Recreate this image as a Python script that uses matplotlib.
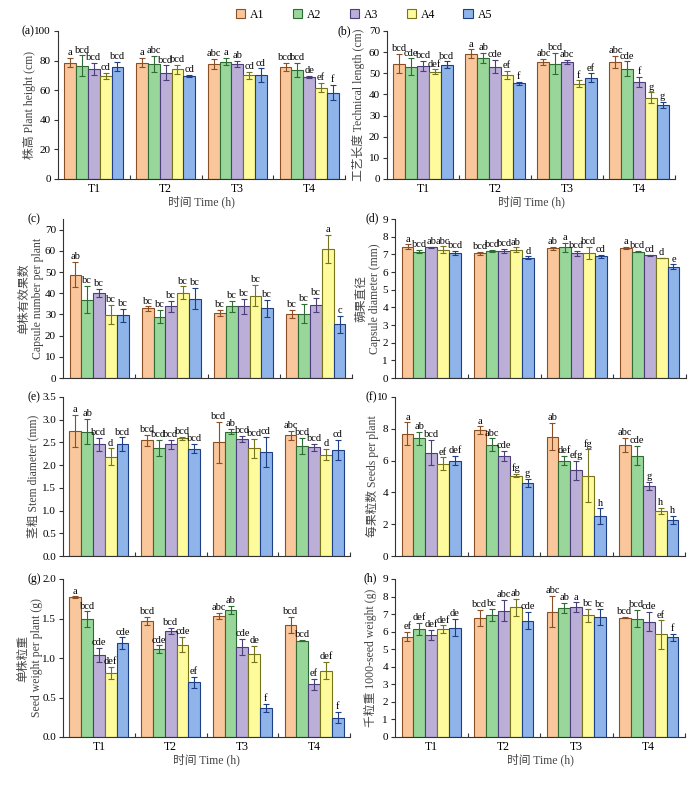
import matplotlib
matplotlib.use("Agg")
import matplotlib.pyplot as plt
from matplotlib.patches import Patch
import numpy as np

plt.rcParams['font.family'] = ['Liberation Serif', 'Noto Sans CJK SC']
plt.rcParams['font.size'] = 8

groups = ['T1', 'T2', 'T3', 'T4']
series = ['A1', 'A2', 'A3', 'A4', 'A5']
face_colors = ['#F9C79B', '#98D69A', '#BBAFD8', '#FDFB9C', '#8FB4EA']
edge_colors = ['#8A4F24', '#2F6B34', '#4C3E78', '#77741E', '#1E3F86']

# each panel: rows = T1..T4, cols = A1..A5
height_mean = [[78.7, 76.5, 74.4, 69.9, 76.0],
               [78.7, 77.5, 71.7, 74.0, 69.4],
               [77.5, 79.3, 78.0, 70.0, 70.3],
               [75.7, 73.7, 68.8, 61.8, 58.4]]
height_err = [[3.0, 7.0, 4.0, 2.0, 3.0],
              [3.0, 5.5, 5.0, 3.0, 0.8],
              [3.5, 2.5, 2.0, 2.5, 4.5],
              [3.0, 5.0, 0.8, 3.0, 5.0]]
height_sig = [['a', 'bcd', 'bcd', 'cd', 'bcd'],
              ['a', 'abc', 'bcd', 'bcd', 'cd'],
              ['abc', 'a', 'ab', 'cd', 'cd'],
              ['bcd', 'bcd', 'de', 'ef', 'f']]

length_mean = [[54.6, 53.0, 53.5, 50.7, 54.1],
               [59.3, 57.3, 53.2, 49.1, 45.3],
               [55.2, 54.6, 55.5, 45.1, 48.0],
               [55.4, 52.1, 45.8, 38.5, 34.9]]
length_err = [[4.5, 4.0, 2.5, 1.2, 1.5],
              [2.0, 2.5, 3.0, 2.0, 0.8],
              [1.5, 5.0, 1.0, 1.5, 2.0],
              [3.0, 3.5, 2.5, 2.5, 1.5]]
length_sig = [['bcd', 'cde', 'bcd', 'def', 'bcd'],
              ['a', 'ab', 'cde', 'ef', 'f'],
              ['abc', 'bcd', 'abc', 'f', 'ef'],
              ['abc', 'cde', 'f', 'g', 'g']]

capsule_mean = [[48.8, 37.0, 40.0, 29.8, 29.5],
                [32.8, 29.0, 33.8, 40.2, 37.4],
                [30.8, 33.8, 33.8, 38.8, 33.0],
                [30.1, 30.3, 34.4, 60.9, 25.3]]
capsule_err = [[6.0, 6.5, 2.0, 4.5, 3.0],
               [1.0, 3.0, 2.5, 3.0, 5.0],
               [1.5, 2.5, 3.5, 5.0, 4.0],
               [2.0, 4.5, 3.5, 6.5, 4.0]]
capsule_sig = [['ab', 'bc', 'bc', 'bc', 'bc'],
               ['bc', 'bc', 'bc', 'bc', 'bc'],
               ['bc', 'bc', 'bc', 'bc', 'bc'],
               ['bc', 'bc', 'bc', 'a', 'c']]

diam_mean = [[7.44, 7.16, 7.40, 7.25, 7.08],
             [7.06, 7.18, 7.19, 7.27, 6.80],
             [7.34, 7.40, 7.06, 7.06, 6.89],
             [7.36, 7.16, 6.95, 6.80, 6.31]]
diam_err = [[0.12, 0.10, 0.02, 0.20, 0.10],
            [0.10, 0.07, 0.12, 0.12, 0.08],
            [0.10, 0.25, 0.15, 0.35, 0.10],
            [0.08, 0.05, 0.04, 0.02, 0.12]]
diam_sig = [['a', 'bcd', 'ab', 'abc', 'bcd'],
            ['bcd', 'bcd', 'bcd', 'ab', 'd'],
            ['ab', 'a', 'bcd', 'bcd', 'cd'],
            ['a', 'bcd', 'cd', 'd', 'e']]

stem_mean = [[2.75, 2.74, 2.46, 2.19, 2.46],
             [2.55, 2.38, 2.46, 2.59, 2.36],
             [2.50, 2.74, 2.58, 2.37, 2.30],
             [2.66, 2.42, 2.39, 2.23, 2.33]]
stem_err = [[0.35, 0.28, 0.14, 0.18, 0.15],
            [0.12, 0.18, 0.10, 0.03, 0.10],
            [0.45, 0.06, 0.07, 0.21, 0.33],
            [0.10, 0.18, 0.08, 0.12, 0.22]]
stem_sig = [['a', 'ab', 'bcd', 'd', 'bcd'],
            ['bcd', 'bcd', 'bcd', 'bcd', 'bcd'],
            ['bcd', 'ab', 'bcd', 'bcd', 'cd'],
            ['abc', 'bcd', 'bcd', 'd', 'cd']]

seeds_mean = [[7.7, 7.4, 6.5, 5.8, 6.0],
              [7.9, 7.0, 6.3, 5.05, 4.6],
              [7.5, 6.0, 5.4, 5.05, 2.5],
              [7.0, 6.3, 4.4, 2.85, 2.25]]
seeds_err = [[0.7, 0.4, 0.8, 0.4, 0.3],
             [0.25, 0.4, 0.3, 0.1, 0.25],
             [0.85, 0.3, 0.6, 1.65, 0.5],
             [0.45, 0.6, 0.25, 0.2, 0.25]]
seeds_sig = [['a', 'ab', 'bcd', 'ef', 'def'],
             ['a', 'abc', 'cde', 'fg', 'g'],
             ['ab', 'def', 'efg', 'fg', 'h'],
             ['abc', 'cde', 'g', 'h', 'h']]

weight_mean = [[1.77, 1.49, 1.04, 0.81, 1.19],
               [1.47, 1.11, 1.34, 1.17, 0.69],
               [1.53, 1.61, 1.14, 1.05, 0.365],
               [1.42, 1.22, 0.67, 0.84, 0.245]]
weight_err = [[0.01, 0.10, 0.09, 0.08, 0.07],
              [0.05, 0.05, 0.04, 0.10, 0.07],
              [0.04, 0.05, 0.10, 0.10, 0.05],
              [0.10, 0.01, 0.07, 0.11, 0.07]]
weight_sig = [['a', 'bcd', 'cde', 'def', 'cde'],
              ['bcd', 'cde', 'bcd', 'cde', 'ef'],
              ['abc', 'ab', 'cde', 'de', 'f'],
              ['bcd', 'bcd', 'ef', 'def', 'f']]

kseed_mean = [[5.72, 6.16, 5.82, 6.14, 6.23],
              [6.78, 6.95, 7.19, 7.38, 6.63],
              [7.14, 7.34, 7.40, 6.93, 6.82],
              [6.80, 6.74, 6.57, 5.84, 5.67]]
kseed_err = [[0.25, 0.35, 0.27, 0.22, 0.50],
             [0.45, 0.35, 0.60, 0.48, 0.50],
             [0.88, 0.30, 0.27, 0.38, 0.45],
             [0.03, 0.50, 0.55, 0.80, 0.22]]
kseed_sig = [['ef', 'def', 'def', 'def', 'de'],
             ['bcd', 'bc', 'abc', 'ab', 'cde'],
             ['abc', 'ab', 'a', 'bc', 'bc'],
             ['bcd', 'bcd', 'cde', 'ef', 'f']]

panels = [
    ('(a)', '株高 Plant height (cm)', height_mean, height_err, height_sig, 100, 20, '%d'),
    ('(b)', '工艺长度 Technical length (cm)', length_mean, length_err, length_sig, 70, 10, '%d'),
    ('(c)', '单株有效果数\nCapsule number per plant', capsule_mean, capsule_err, capsule_sig, 75, 10, '%d'),
    ('(d)', '蒴果直径\nCapsule diameter (mm)', diam_mean, diam_err, diam_sig, 9, 1, '%d'),
    ('(e)', '茎粗 Stem diameter (mm)', stem_mean, stem_err, stem_sig, 3.5, 0.5, '%.1f'),
    ('(f)', '每果粒数 Seeds per plant', seeds_mean, seeds_err, seeds_sig, 10, 2, '%d'),
    ('(g)', '单株粒重\nSeed weight per plant (g)', weight_mean, weight_err, weight_sig, 2.0, 0.5, '%.1f'),
    ('(h)', '千粒重 1000-seed weight (g)', kseed_mean, kseed_err, kseed_sig, 9, 1, '%d'),
]

# axes boxes in pixels: left, right, top, bottom
W, H = 700, 792
boxes = [(58, 345, 31, 179), (387, 675, 31, 179),
         (63, 352, 219, 378), (395, 686, 219, 378),
         (63, 350, 397, 556), (395, 685, 397, 556),
         (63, 350, 579, 737), (395, 685, 579, 737)]
label_offset = [29, 29, 32, 27, 30, 23, 33, 25]
tag_pos = [(22, 31), (338, 31), (27, 219), (365, 218),
           (27, 397), (365, 397), (27, 579), (363, 578)]

fig = plt.figure(figsize=(7.0, 7.92), dpi=100)

x = np.arange(len(groups))
width = 0.164

for i, (tag, ylabel, mean, err, sig, ymax, ystep, fmt) in enumerate(panels):
    l, r, t, b = boxes[i]
    ax = fig.add_axes([l / W, 1 - b / H, (r - l) / W, (b - t) / H])
    mean = np.array(mean)
    err = np.array(err)
    for j in range(len(series)):
        xpos = x + (j - 2) * width
        ax.bar(xpos, mean[:, j], width, color=face_colors[j],
               edgecolor=edge_colors[j], linewidth=0.8, zorder=2)
        ax.errorbar(xpos, mean[:, j], yerr=err[:, j], fmt='none',
                    ecolor=edge_colors[j], elinewidth=0.8, capsize=2.5,
                    capthick=0.8, zorder=3)
        for k in range(len(groups)):
            ax.text(xpos[k], mean[k, j] + err[k, j] + ymax * 0.005, sig[k][j],
                    ha='center', va='bottom', fontsize=7.5, zorder=4)

    ax.set_xlim(-0.5, 3.5)
    ax.set_ylim(0, ymax)
    ax.set_yticks(np.arange(0, ymax + 1e-6, ystep))
    ax.yaxis.set_major_formatter(matplotlib.ticker.FormatStrFormatter(fmt))
    ax.set_ylabel(ylabel, fontsize=8.5, color='#444444', linespacing=1.15,
                  va='center')
    ax.yaxis.set_label_coords(-label_offset[i] / (r - l), 0.5)
    ax.spines['top'].set_visible(False)
    ax.spines['right'].set_visible(False)
    for s in ['left', 'bottom']:
        ax.spines[s].set_color('#333333')
        ax.spines[s].set_linewidth(0.8)
    ax.tick_params(axis='y', direction='out', length=3, width=0.8,
                   labelsize=8, color='#333333', pad=2)
    ax.set_xticks(x)
    ax.set_xticks([0.5, 1.5, 2.5, 3.5], minor=True)
    ax.tick_params(axis='x', which='major', length=0, labelsize=8.5, pad=3)
    ax.tick_params(axis='x', which='minor', direction='in', length=3,
                   width=0.8, color='#333333')
    if i < 2 or i > 5:
        ax.set_xticklabels(groups)
        ax.set_xlabel('时间 Time (h)', fontsize=8.5, color='#444444', labelpad=0)
    else:
        ax.set_xticklabels([])
    fig.text(tag_pos[i][0] / W, 1 - tag_pos[i][1] / H, tag,
             ha='left', va='center', fontsize=8.5)

handles = [Patch(facecolor=face_colors[j], edgecolor=edge_colors[j],
                 linewidth=0.8, label=series[j]) for j in range(len(series))]
fig.legend(handles=handles, loc='center', bbox_to_anchor=(0.52, 0.981),
           ncol=5, frameon=False, fontsize=8.5, handlelength=0.8,
           handleheight=0.8, handletextpad=0.4, columnspacing=2.4)

fig.savefig('out.png', dpi=100, facecolor='white')
